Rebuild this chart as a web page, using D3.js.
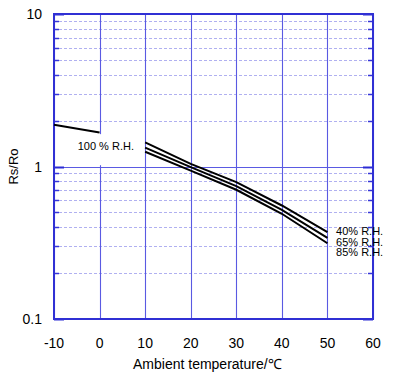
<!DOCTYPE html>
<html>
<head>
<meta charset="utf-8">
<script src="https://cdn.jsdelivr.net/npm/d3@7"></script>
<style>
  body { margin: 0; background: #fff; }
  svg text { font-family: "Liberation Sans", Arial, sans-serif; fill: #000; }
</style>
</head>
<body>
<svg id="chart" width="402" height="391"></svg>
<script>
// data
var xTicks = [-10, 0, 10, 20, 30, 40, 50, 60];
var yTicks = [0.1, 1, 10];
var yTickLabels = ['0.1', '1', '10'];

var temps100 = [-10, 0];
var rh100 = [1.88, 1.67];

var temps = [10, 20, 30, 40, 50];
var rh40 = [1.44, 1.04, 0.789, 0.555, 0.371];
var rh65 = [1.33, 0.99, 0.743, 0.52, 0.34];
var rh85 = [1.25, 0.94, 0.704, 0.49, 0.314];

var seriesLabels = ['40% R.H.', '65% R.H.', '85% R.H.'];

var svg = d3.select('#chart');
var margin = {left: 54, right: 29, top: 14, bottom: 72};
var W = 402, H = 391;

var x = d3.scaleLinear().domain([-10, 60]).range([margin.left, W - margin.right]);
var y = d3.scaleLog().domain([0.1, 10]).range([H - margin.bottom, margin.top]);

//minor grid (2..9 per decade)
var minor = [];
[0.1, 1].forEach(function(d) {
  for (var i = 2; i <= 9; i++) minor.push(d * i);
});
function py(d) { return Math.round(y(d)) + 0.5; }

var grid = svg.append('g');
grid.selectAll('line.minor').data(minor).enter().append('line')
  .attr('class', 'minor')
  .attr('x1', x(-10)).attr('x2', x(60))
  .attr('y1', py).attr('y2', py)
  .attr('stroke', '#b0b0f0')
  .attr('stroke-dasharray', '3,2');

//minor ticks on both sides
grid.selectAll('line.tl').data(minor).enter().append('line')
  .attr('x1', x(-10)).attr('x2', x(-10) + 5)
  .attr('y1', py).attr('y2', py)
  .attr('stroke', '#3535d8').attr('stroke-width', 1.5);
grid.selectAll('line.tr').data(minor).enter().append('line')
  .attr('x1', x(60) - 5).attr('x2', x(60))
  .attr('y1', py).attr('y2', py)
  .attr('stroke', '#3535d8').attr('stroke-width', 1.5);

//major horizontal
grid.selectAll('line.major').data(yTicks).enter().append('line')
  .attr('x1', x(-10)).attr('x2', x(60))
  .attr('y1', py).attr('y2', py)
  .attr('stroke', '#5a5ae2').attr('stroke-width', 1.2);
grid.selectAll('line.mtl').data(yTicks).enter().append('line')
  .attr('x1', x(-10)).attr('x2', x(-10) + 10)
  .attr('y1', py).attr('y2', py)
  .attr('stroke', '#2c2cd4').attr('stroke-width', 2);
grid.selectAll('line.mtr').data(yTicks).enter().append('line')
  .attr('x1', x(60) - 10).attr('x2', x(60))
  .attr('y1', py).attr('y2', py)
  .attr('stroke', '#2c2cd4').attr('stroke-width', 2);

//vertical grid
grid.selectAll('line.v').data(xTicks).enter().append('line')
  .attr('x1', function(d) { return Math.round(x(d)) + 0.5; })
  .attr('x2', function(d) { return Math.round(x(d)) + 0.5; })
  .attr('y1', y(10)).attr('y2', y(0.1))
  .attr('stroke', '#5a5ae2').attr('stroke-width', 1.1);

//frame
svg.append('rect')
  .attr('x', x(-10)).attr('y', y(10))
  .attr('width', x(60) - x(-10)).attr('height', y(0.1) - y(10))
  .attr('fill', 'none').attr('stroke', '#3030d4').attr('stroke-width', 2);

//white box behind the 100% label
svg.append('rect')
  .attr('x', x(-8.2)).attr('y', y(1.63))
  .attr('width', x(9.6) - x(-8.2)).attr('height', y(1.02) - y(1.63))
  .attr('fill', '#fff');

//curves
var line = d3.line()
  .x(function(d) { return x(d[0]); })
  .y(function(d) { return y(d[1]); });

var curves = [
  d3.zip(temps100, rh100),
  d3.zip(temps, rh40),
  d3.zip(temps, rh65),
  d3.zip(temps, rh85)
];
svg.selectAll('path.curve').data(curves).enter().append('path')
  .attr('class', 'curve')
  .attr('d', line)
  .attr('fill', 'none')
  .attr('stroke', '#000')
  .attr('stroke-width', 2);

//curve labels
svg.append('text')
  .attr('x', x(-4.8)).attr('y', 150)
  .attr('font-size', 11)
  .text('100 % R.H.');
svg.selectAll('text.rh').data(seriesLabels).enter().append('text')
  .attr('class', 'rh')
  .attr('x', x(51.9))
  .attr('y', function(d, i) { return 235 + i * 10.6; })
  .attr('font-size', 11)
  .text(function(d) { return d; });

//tick labels
svg.selectAll('text.xt').data(xTicks).enter().append('text')
  .attr('x', function(d) { return x(d); })
  .attr('y', H - margin.bottom + 29)
  .attr('text-anchor', 'middle')
  .attr('font-size', 14)
  .text(function(d) { return d; });

svg.selectAll('text.yt').data(yTicks).enter().append('text')
  .attr('x', 42)
  .attr('y', function(d) { return y(d) + 5; })
  .attr('text-anchor', 'end')
  .attr('font-size', 14)
  .text(function(d, i) { return yTickLabels[i]; });

//axis titles
svg.append('text')
  .attr('x', 133).attr('y', 369)
  .attr('font-size', 14)
  .text('Ambient temperature/\u2103');

svg.append('text')
  .attr('transform', 'translate(18,' + y(1) + ') rotate(-90)')
  .attr('text-anchor', 'middle')
  .attr('font-size', 13)
  .text('Rs/Ro');
</script>
</body>
</html>
